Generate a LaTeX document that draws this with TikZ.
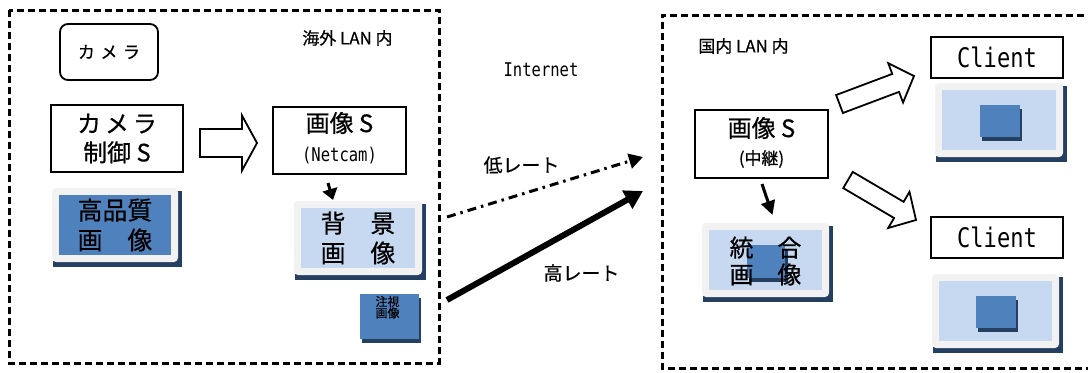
\documentclass[tikz,border=0pt]{standalone}
\usepackage{fontspec}
\setmainfont{Noto Sans CJK JP}[FakeBold=0.6]
\newfontfamily\monof[FakeStretch=0.82]{DejaVu Sans Mono}
\usetikzlibrary{calc,arrows.meta}
\definecolor{blueA}{HTML}{4F81BD}
\definecolor{blueL}{HTML}{C6D9F1}
\definecolor{navy}{HTML}{243F60}
\definecolor{frameG}{HTML}{F2F2F2}
\tikzset{
  box/.style={draw, line width=2bp, fill=white, inner sep=0pt},
  lanbox/.style={line width=3bp, dash pattern=on 7bp off 4bp},
  harrow/.style={draw, fill=white, line width=1.8bp, line join=miter},
  txt/.style={inner sep=0pt},
  shadowrect/.style={fill=navy, draw=none},
  framerect/.style={fill=frameG, draw=none, rounded corners=4bp},
}
\newcommand\hollowarrow[5]{%
  \coordinate (ha-h) at ($(#2)!#5!(#1)$);
  \draw[harrow] ($(#1)!#3!90:(#2)$) -- ($(ha-h)!#3!90:(#2)$) -- ($(ha-h)!#4!90:(#2)$) -- (#2)
    -- ($(ha-h)!#4!-90:(#2)$) -- ($(ha-h)!#3!-90:(#2)$) -- ($(#1)!#3!-90:(#2)$) -- cycle;}
% screen: name, x1,y1,x2,y2 (outer), inner colour
\newcommand\screen[6]{%
  \fill[shadowrect] (#2+1,#3+3) rectangle (#4+4,#5+5);
  \fill[framerect] (#2,#3) rectangle (#4,#5);
  \node[fill=#6, inner sep=0pt, minimum width=#4-#2-13bp, minimum height=#5-#3-14bp] (#1) at ({(#2+#4)/2},{(#3+#5)/2}) {};}
\begin{document}
\begin{tikzpicture}[x=1bp,y=-1bp]
\useasboundingbox (0,0) rectangle (1088,372);
% LAN boxes
\draw[lanbox] (9,10) rectangle (439,363);
\draw[lanbox] (1095,15) -- (662,15) -- (662,368) -- (1095,368);
\node[txt, font=\fontsize{17}{17}\selectfont] (lan1) at (347.5,38) {海外 LAN 内};
\node[txt, font=\fontsize{17}{17}\selectfont] (lan2) at (743.5,46) {国内 LAN 内};
\node[txt, font=\monof\fontsize{19}{19}\selectfont] (inet) at (541,70) {Internet};

% camera
\node[draw, line width=1.8bp, rounded corners=8bp, minimum width=98bp, minimum height=56bp] (camera) at (109,52)
  {\fontsize{17}{17}\selectfont カ\,\,メ\,\,ラ};
% camera control
\node[box, minimum width=132bp, minimum height=67bp, align=center, font=\fontsize{24}{29}\selectfont] (ctrl) at (117,138.5)
  {カ\,メ\,ラ\\制御 S};
% Netcam
\node[box, minimum width=133bp, minimum height=67bp] (netcam) at (339.5,140.5) {};
\node[txt, font=\fontsize{24}{24}\selectfont] (netcamA) at (339.5,123) {画像 S};
\node[txt, font=\monof\fontsize{19}{19}\selectfont] (netcamB) at (339.5,156) {(Netcam)};

% high quality image
\screen{hq}{52}{188}{178}{262}{blueA}
\node[txt, align=center, font=\fontsize{25}{30}\selectfont] at (hq) {高品質\\画　像};
% background image
\screen{bg}{294}{201}{422}{275}{blueL}
\node[txt, align=center, font=\fontsize{25}{30}\selectfont] at (bg) {背　景\\画　像};
% attention image
\fill[shadowrect] (362,298) rectangle (421,343);
\node[fill=blueA, inner sep=0pt, minimum width=59bp, minimum height=45bp] (attn) at (389.5,316.5) {};
\node[txt, align=center, font=\fontsize{12}{11.5}\selectfont, anchor=north] at ($(attn.north)+(-2,2)$) {注視\\画像};

% relay
\node[box, minimum width=133bp, minimum height=68bp] (relay) at (761.5,144) {};
\node[txt, font=\fontsize{24}{24}\selectfont] (relayA) at (761.5,128) {画像 S};
\node[txt, font=\fontsize{17}{17}\selectfont] (relayB) at (761.5,159) {(中継)};
% merged image
\screen{merged}{702}{223}{829}{297}{blueL}
\fill[navy] (749,249) rectangle (788,282);
\fill[blueA] (747,245) rectangle (785,278);
\node[txt, align=center, font=\fontsize{24}{27}\selectfont] at ($(merged)+(0,1)$) {統　合\\画　像};

% clients
\node[box, minimum width=132bp, minimum height=41bp, font=\monof\fontsize{27}{27}\selectfont] (client1) at (997,57.5) {Client};
\node[box, minimum width=132bp, minimum height=41bp, font=\monof\fontsize{27}{27}\selectfont] (client2) at (997,237.5) {Client};
\screen{scr1}{935}{83}{1063}{157}{blueL}
\fill[navy] (982,109) rectangle (1022,141);
\node[fill=blueA, inner sep=0pt, minimum width=40bp, minimum height=32bp] (win1) at (1000,121) {};
\screen{scr2}{932}{274}{1059}{348}{blueL}
\fill[navy] (978,300) rectangle (1018,332);
\node[fill=blueA, inner sep=0pt, minimum width=40bp, minimum height=32bp] (win2) at (996,312) {};

% hollow arrows
\coordinate (h1s) at ($(ctrl.east)+(16,4.5)$);
\coordinate (h1e) at ($(netcam.west)+(-15,2.5)$);
\hollowarrow{h1s}{h1e}{14bp}{27.5bp}{15bp}
\coordinate (h2s) at (839.5,104);
\coordinate (h2e) at (914,76);
\hollowarrow{h2s}{h2e}{9.6bp}{21bp}{19.6bp}
\coordinate (h3s) at (848,180);
\coordinate (h3e) at (916,220);
\hollowarrow{h3s}{h3e}{9.4bp}{21bp}{19.9bp}

% small arrows
\coordinate (s1s) at ($(netcam.south)+(-11.5,8)$);
\coordinate (s1e) at ($(bg.north)+(-25,-8)$);
\draw[line width=3bp, -{Triangle[length=11bp,width=15bp]}] (s1s) -- (s1e);
\coordinate (s2s) at ($(relay.south)+(0.5,5)$);
\coordinate (s2e) at ($(merged.north)+(7,-15)$);
\draw[line width=3bp, -{Triangle[length=14bp,width=14bp]}] (s2s) -- (s2e);

% internet arrows
\coordinate (lowS) at (447,217);
\coordinate (lowE) at (643,157);
\draw[line width=3bp, dash pattern=on 9bp off 5bp on 2.5bp off 5bp, -{Triangle[length=14bp,width=15bp]}] (lowS) -- (lowE);
\node[txt, font=\fontsize{19}{19}\selectfont] (lowL) at (521.5,165) {低レート};
\coordinate (highS) at (447,300);
\coordinate (highE) at (643,191);
\draw[line width=6bp, -{Triangle[length=18bp,width=20bp]}] (highS) -- (highE);
\node[txt, font=\fontsize{19}{19}\selectfont] (highL) at (581.5,273) {高レート};
\end{tikzpicture}
\end{document}
